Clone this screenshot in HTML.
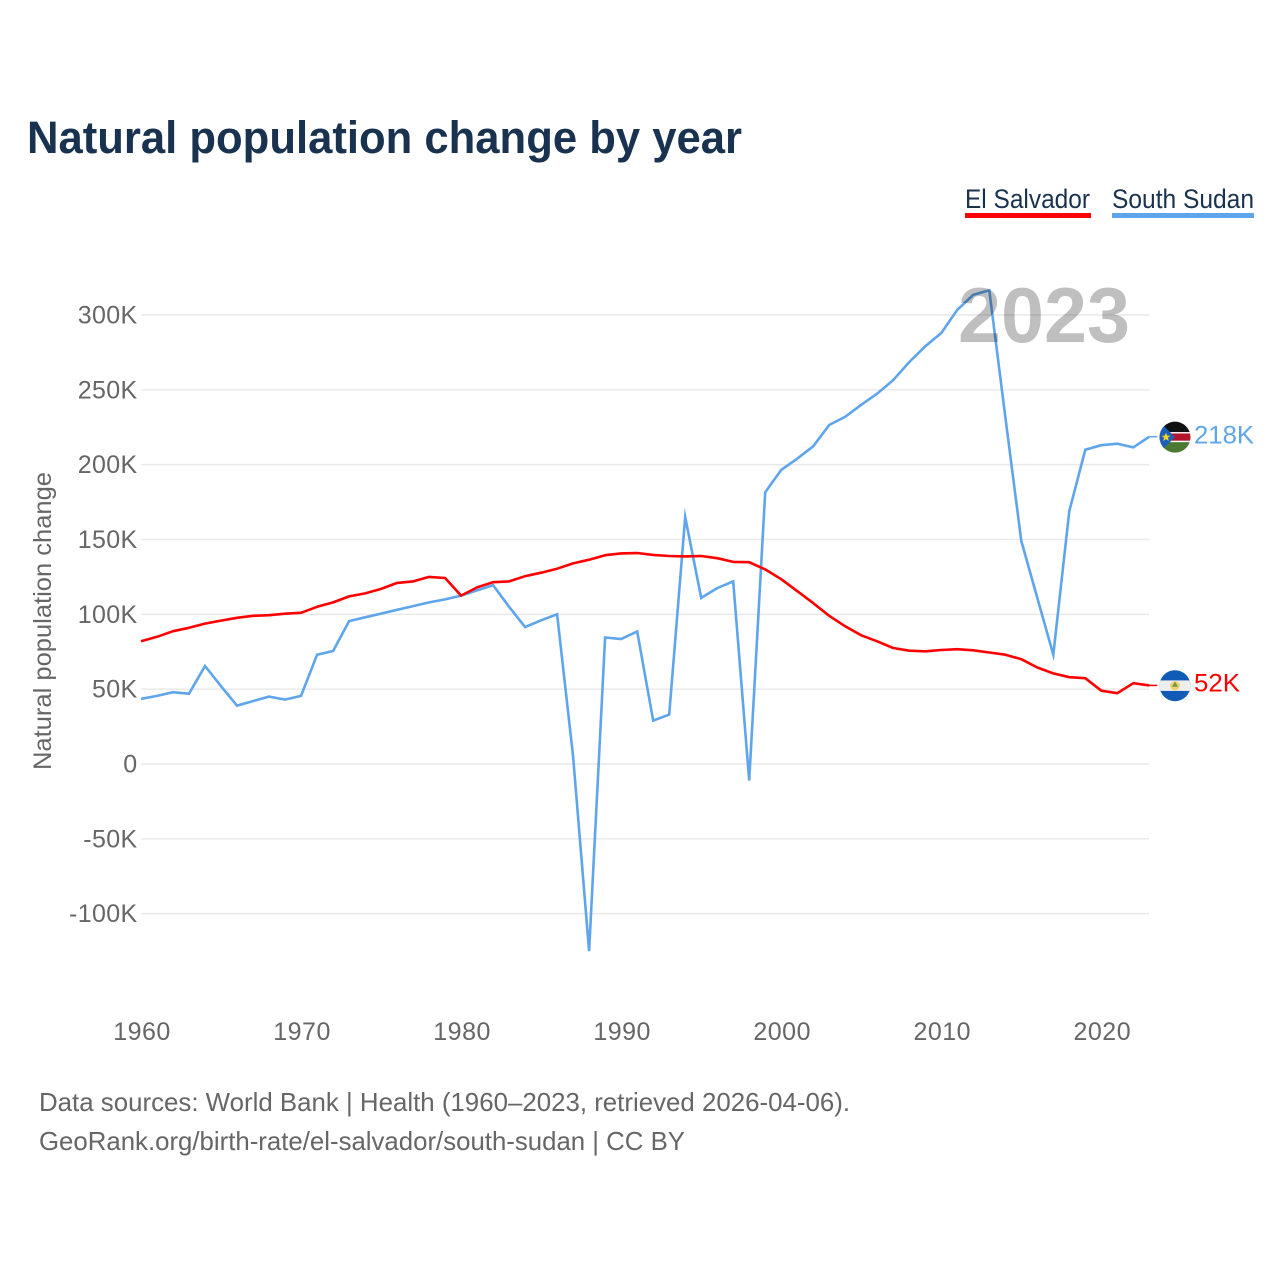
<!DOCTYPE html>
<html lang="en">
<head>
<meta charset="utf-8">
<title>Natural population change by year</title>
<style>
html,body{margin:0;padding:0;background:#fff}
svg{display:block}
text{font-family:"Liberation Sans",sans-serif}
</style>
</head>
<body>
<svg id="chart" xmlns="http://www.w3.org/2000/svg" width="1280" height="1280" viewBox="0 0 1280 1280">
  <defs>
    <clipPath id="flag-clip"><circle cx="0" cy="0" r="15.5"/></clipPath>
  </defs>
  <rect x="0" y="0" width="1280" height="1280" fill="#fff"/>
  <text x="27" y="153" font-size="45" font-weight="700" fill="#18324f" textLength="715" lengthAdjust="spacingAndGlyphs">Natural population change by year</text>

  <g>
    <g>
      <text x="965" y="208" font-size="27" fill="#18324f" textLength="125" lengthAdjust="spacingAndGlyphs">El Salvador</text>
      <rect x="965" y="213" width="126" height="5" fill="#ff0000"/>
    </g>
    <g>
      <text x="1112" y="208" font-size="27" fill="#18324f" textLength="142" lengthAdjust="spacingAndGlyphs">South Sudan</text>
      <rect x="1112" y="213" width="142" height="5" fill="#5fa5ec"/>
    </g>
  </g>

  <text transform="translate(51,621) rotate(-90)" text-anchor="middle" font-size="25" fill="#666" textLength="298" lengthAdjust="spacingAndGlyphs">Natural population change</text>

  <g id="grid"></g>
  <g id="ytick-labels"></g>
  <g id="xtick-labels"></g>
  <g id="series"></g>

  <text id="year-label" x="958" y="342" font-size="78" font-weight="700" fill="#000" fill-opacity="0.25" textLength="172" lengthAdjust="spacingAndGlyphs">2023</text>

  <g id="flag-south-sudan">
    <g clip-path="url(#flag-clip)">
      <rect x="-16" y="-16" width="32" height="11" fill="#111"/>
      <rect x="-16" y="-5" width="32" height="10" fill="#fff"/>
      <rect x="-16" y="-3.7" width="32" height="7.2" fill="#b5122b"/>
      <rect x="-16" y="5" width="32" height="11" fill="#4c7a32"/>
      <polygon points="-16,-16 -16,16 0,0" fill="#1c5fb8"/>
      <polygon points="-9,-4.5 -7.8,-1.5 -4.6,-1.4 -7.1,0.6 -6.2,3.8 -9,2 -11.8,3.8 -10.9,0.6 -13.4,-1.4 -10.2,-1.5" fill="#f5d328"/>
    </g>
  </g>
  <g id="flag-el-salvador">
    <g clip-path="url(#flag-clip)">
      <rect x="-16" y="-16" width="32" height="32" fill="#0f5bb5"/>
      <rect x="-16" y="-5.3" width="32" height="10.5" fill="#eeeeee"/>
      <path d="M-5,-3 A5,5 0 0 0 5,-3 L5,-1 A5,5 0 0 1 -5,-1 Z" fill="#e7c84b"/>
      <circle cx="0" cy="0" r="4.6" fill="#ecd268"/>
      <polygon points="-3,1 3,1 0,-4" fill="#6f9350"/>
    </g>
  </g>

  <text id="end-label-south-sudan" x="1194" font-size="25" fill="#5fa5ec" textLength="60" lengthAdjust="spacingAndGlyphs"></text>
  <text id="end-label-el-salvador" x="1194" font-size="25" fill="#ff0000" textLength="46" lengthAdjust="spacingAndGlyphs"></text>

  <text x="39" y="1111" font-size="26" fill="#666" textLength="811" lengthAdjust="spacingAndGlyphs">Data sources: World Bank | Health (1960–2023, retrieved 2026-04-06).</text>
  <text x="39" y="1150" font-size="26" fill="#666" textLength="646" lengthAdjust="spacingAndGlyphs">GeoRank.org/birth-rate/el-salvador/south-sudan | CC BY</text>
</svg>
<script>
const years = [1960,1961,1962,1963,1964,1965,1966,1967,1968,1969,1970,1971,1972,1973,1974,1975,1976,1977,1978,1979,1980,1981,1982,1983,1984,1985,1986,1987,1988,1989,1990,1991,1992,1993,1994,1995,1996,1997,1998,1999,2000,2001,2002,2003,2004,2005,2006,2007,2008,2009,2010,2011,2012,2013,2014,2015,2016,2017,2018,2019,2020,2021,2022,2023];
const elSalvador = [82,85,88.7,91,93.8,95.8,97.7,99,99.4,100.4,101,105,108,112,114,117,121,122,125,124.3,112.5,118,121.5,122,125.5,127.8,130.5,134,136.5,139.5,140.7,141,139.7,139,138.7,139,137.5,135,134.8,130,123.5,115.5,107.5,99,92,86,82,77.5,75.7,75.3,76.2,76.7,76,74.5,73,70,64.5,60.5,58,57.3,49,47.3,54,52.5];
const southSudan = [43.5,45.5,48,47,65.5,52,39,42,45,43,45.5,73,75.5,95.5,98,100.5,103,105.5,108,110,112.5,116,119.5,105,91.5,96,100,5,-125,84.5,83.5,88.5,29,33,165,111,117.5,122,-11,181.5,196.5,204,212.3,226.5,232,240,247.5,256.5,268.5,279,288,303.5,313.5,316.5,232,149,111,73,169,210,213,214,211.5,218.7];
const yTicks = [-100,-50,0,50,100,150,200,250,300];
const yTickLabels = ['-100K','-50K','0','50K','100K','150K','200K','250K','300K'];
const xTicks = [1960,1970,1980,1990,2000,2010,2020];
const xTickLabels = ['1960','1970','1980','1990','2000','2010','2020'];
const endLabelSouthSudan = '218K';
const endLabelElSalvador = '52K';

const NS = 'http://www.w3.org/2000/svg';
function xScale(year) { return 141 + (year - 1960) * 16.005; }
function yScale(v) { return 764 - v * 1.4967; }
function make(tag, parent, attrs) {
  const el = document.createElementNS(NS, tag);
  for (const k in attrs) el.setAttribute(k, attrs[k]);
  parent.appendChild(el);
  return el;
}

const grid = document.getElementById('grid');
const yLabels = document.getElementById('ytick-labels');
yTicks.forEach(function (t, i) {
  const line = make('line', grid, {x1: 141, x2: 1149, y1: yScale(t), y2: yScale(t), stroke: '#e9e9e9', 'stroke-width': 1.5});
  
  
  const label = make('text', yLabels, {x: 137.5, y: yScale(t) + 8.5, 'text-anchor': 'end', 'font-size': 25, fill: '#666', 'letter-spacing': '0.35'});
  
  
  label.textContent = yTickLabels[i];
});

const xLabels = document.getElementById('xtick-labels');
xTicks.forEach(function (t, i) {
  const label = make('text', xLabels, {x: xScale(t) + 1, y: 1040, 'text-anchor': 'middle', 'font-size': 25, fill: '#666', 'letter-spacing': '0.5'});
  
  
  label.textContent = xTickLabels[i];
});

function pointsFor(values) {
  return values.map(function (v, i) { return xScale(years[i]).toFixed(1) + ',' + yScale(v).toFixed(1); }).join(' ');
}
const seriesGroup = document.getElementById('series');

const lastYear = years[years.length - 1];
const lastX = xScale(lastYear);

const ssLine = make('polyline', seriesGroup, {points: pointsFor(southSudan), fill: 'none', stroke: '#5fa5ec', 'stroke-width': 2.6, 'stroke-linejoin': 'miter', 'stroke-miterlimit': 10});



const esLine = make('polyline', seriesGroup, {points: pointsFor(elSalvador), fill: 'none', stroke: '#ff0000', 'stroke-width': 2.6, 'stroke-linejoin': 'round'});



const ssEndY = yScale(southSudan[southSudan.length - 1]);
const esEndY = yScale(elSalvador[elSalvador.length - 1]);

const ssConn = make('line', seriesGroup, {x1: lastX, x2: lastX + 8, y1: ssEndY, y2: ssEndY, stroke: '#5fa5ec', 'stroke-width': 1.5});



const esConn = make('line', seriesGroup, {x1: lastX, x2: lastX + 8, y1: esEndY, y2: esEndY, stroke: '#ff0000', 'stroke-width': 1.5});



document.getElementById('flag-south-sudan').setAttribute('transform', 'translate(1175,' + (ssEndY + 0.5) + ')');
document.getElementById('flag-el-salvador').setAttribute('transform', 'translate(1175,' + (esEndY + 0.3) + ')');

const ssEnd = document.getElementById('end-label-south-sudan');
ssEnd.setAttribute('y', ssEndY + 7);
ssEnd.textContent = endLabelSouthSudan;
const esEnd = document.getElementById('end-label-el-salvador');
esEnd.setAttribute('y', esEndY + 6);
esEnd.textContent = endLabelElSalvador;
</script>
</body>
</html>
